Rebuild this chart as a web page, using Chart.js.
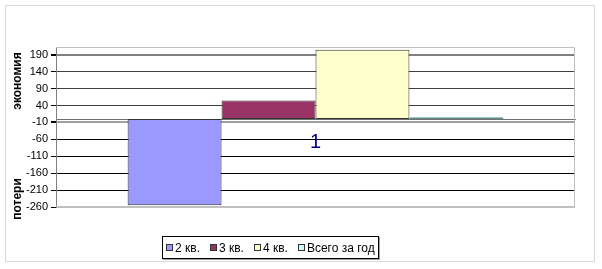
<!DOCTYPE html>
<html>
<head>
<meta charset="utf-8">
<script src="https://cdn.jsdelivr.net/npm/chart.js@4/dist/chart.umd.min.js"></script>
<style>
  body { margin: 0; background: #fff; }
  #wrap { position: relative; width: 602px; height: 269px; }
  #frame { position: absolute; left: 5px; top: 5px; width: 590px; height: 257px; border: 1px solid #d9d9d9; box-sizing: border-box; pointer-events: none; }
  #legend { position: absolute; left: 162px; top: 236px; height: 23px; border: 1px solid #000; box-shadow: 1px 1px 0 #a0a0a0;
            display: flex; align-items: center; padding: 0 3px 0 3px; font: 12px Arial, "Liberation Sans", sans-serif; color: #000; box-sizing: border-box; }
  #legend .item { display: flex; align-items: center; margin-right: 10px; white-space: nowrap; }
  #legend .item:last-child { margin-right: 0; }
  #legend .sw { width: 5px; height: 5px; border: 1px solid #333; margin-right: 2px; }
</style>
</head>
<body>
<div id="wrap">
  <canvas id="myChart" width="602" height="269"></canvas>
  <div id="frame"></div>
  <div id="legend"></div>
</div>
<script>
// данные диаграммы
const kategorii = ['1'];
const serii = ['2 кв.', '3 кв.', '4 кв.', 'Всего за год'];
const znacheniya = [-255, 55, 205, 5];
const cveta = ['#9999ff', '#993366', '#ffffcc', '#ccffff'];
const metkiOsi = [-260, -210, -160, -110, -60, -10, 40, 90, 140, 190];
const podpisVerh = 'экономия';
const podpisNiz = 'потери';

// подписи оси Y и рамка области построения
const ramka = {
    id: 'ramka',
    beforeDatasetsDraw(chart) {
        const a = chart.chartArea;
        const ctx = chart.ctx;
        ctx.save();
        ctx.strokeStyle = '#c0c0c0';
        ctx.lineWidth = 1;
        ctx.beginPath();
        ctx.moveTo(a.left, a.top + 0.5);
        ctx.lineTo(a.right - 0.5, a.top + 0.5);
        ctx.lineTo(a.right - 0.5, a.bottom - 0.5);
        ctx.lineTo(a.left, a.bottom - 0.5);
        ctx.stroke();
        ctx.restore();
    },
    afterDraw(chart) {
        const ctx = chart.ctx;
        ctx.save();
        ctx.font = 'bold 12px Arial, "Liberation Sans", sans-serif';
        ctx.fillStyle = '#000';
        ctx.textAlign = 'center';
        ctx.textBaseline = 'middle';
        [[podpisVerh, 81], [podpisNiz, 199]].forEach(([t, y]) => {
            ctx.save();
            ctx.translate(18, y);
            ctx.rotate(-Math.PI / 2);
            ctx.fillText(t, 0, 0);
            ctx.restore();
        });
        ctx.restore();
    }
};

function cvetSetki(ctx) {
    const v = ctx.tick ? ctx.tick.value : 0;
    if (v === 190) return '#808080';
    if (v === -10) return '#a0a0a0';
    if (v === -260) return '#c0c0c0';
    if (v > 0) return '#404040';
    return '#000000';
}

const ctx = document.getElementById('myChart').getContext('2d');
const chart = new Chart(ctx, {
    type: 'bar',
    data: {
        labels: kategorii,
        datasets: serii.map((s, i) => ({
            label: s,
            data: [znacheniya[i]],
            backgroundColor: cveta[i],
            borderColor: i === 3 ? '#5f8f8f' : '#333333',
            borderWidth: 1,
            borderSkipped: false
        }))
    },
    options: {
        responsive: false,
        animation: false,
        layout: { padding: { left: 6, right: 27, top: 47, bottom: 62 } },
        plugins: { legend: { display: false }, tooltip: { enabled: false } },
        datasets: { bar: { categoryPercentage: 0.724, barPercentage: 1 } },
        scales: {
            x: {
                position: { y: 0 },
                grid: { display: false, drawTicks: false },
                border: { display: true, color: '#707070', width: 1 },
                ticks: { color: '#000080', padding: 11, font: { family: 'Arial, "Liberation Sans", sans-serif', size: 20 } }
            },
            y: {
                min: -260,
                max: 213,
                afterBuildTicks: s => { s.ticks = metkiOsi.map(v => ({ value: v })); },
                afterFit: s => { s.width = 50; },
                grid: {
                    color: cvetSetki,
                    lineWidth: c => (c.tick && (c.tick.value === 190 || c.tick.value === -10)) ? 2 : 1,
                    tickLength: 5,
                    tickColor: '#000'
                },
                border: { display: true, color: '#808080', width: 1 },
                ticks: { color: '#000', padding: 3, font: { family: 'Arial, "Liberation Sans", sans-serif', size: 11 } }
            }
        }
    },
    plugins: [ramka]
});

// легенда
const leg = document.getElementById('legend');
leg.innerHTML = serii.map((s, i) => `<span class="item"><span class="sw" style="background:${cveta[i]}"></span>${s}</span>`).join('');
</script>
</body>
</html>
